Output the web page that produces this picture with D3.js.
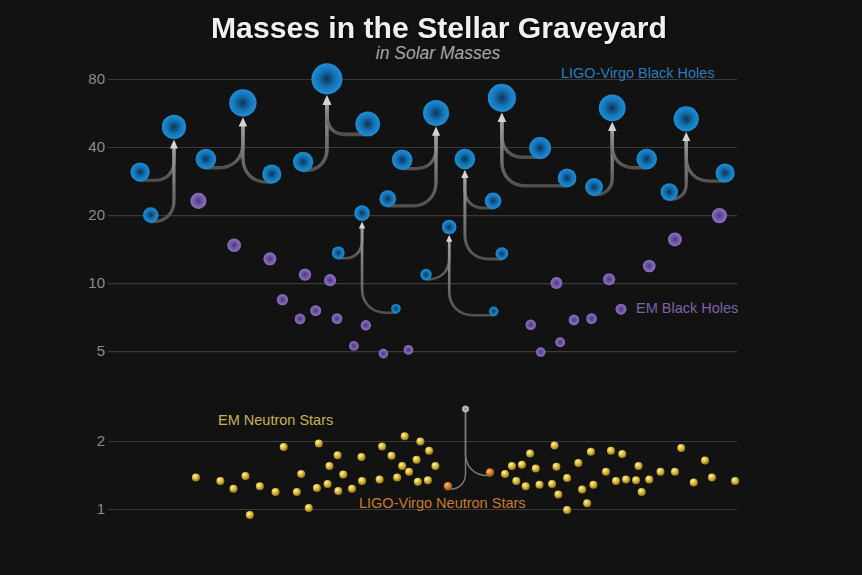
<!DOCTYPE html>
<html>
<head>
<meta charset="utf-8">
<script src="https://cdnjs.cloudflare.com/ajax/libs/d3/7.8.5/d3.min.js"></script>
<style>
  body { margin: 0; background: #121212; }
  svg { display: block; font-family: "Liberation Sans", Arial, sans-serif; }
</style>
</head>
<body>
<div id="chart"></div>
<script>
// tick values on the log axis (solar masses)
const yTicks = [1, 2, 5, 10, 20, 40, 80];

// LIGO-Virgo black hole mergers: horizontal slot (0-100) and mass of the two
// progenitors and of the final black hole
const bhFinalSlot = [10.2, 21.2, 34.6, 40.2, 52.0, 54.1, 56.6, 62.5, 80.1, 91.9];
const bhFinalMass = [49.1, 62.7, 80.1, 20.4, 56.6, 17.7, 35.4, 66.0, 59.6, 53.3];
const bhP1Slot = [4.8, 15.3, 30.8, 36.4, 46.6, 50.4, 61.1, 68.6, 77.2, 89.2];
const bhP1Mass = [31.0, 35.4, 34.4, 13.6, 35.1, 10.9, 23.1, 39.6, 26.6, 25.3];
const bhP2Slot = [6.5, 25.8, 41.1, 45.6, 44.3, 61.2, 62.5, 72.9, 85.6, 98.1];
const bhP2Mass = [20.0, 30.4, 50.6, 7.7, 23.6, 7.5, 13.5, 29.2, 35.4, 30.7];

// EM black holes
const emBhSlot = [14.1, 19.8, 25.5, 31.1, 35.1, 27.5, 32.8, 30.3, 36.2, 40.8, 38.9, 43.6, 47.6,
                  97.2, 90.1, 86.0, 79.6, 71.2, 81.5, 76.8, 74.0, 67.1, 71.8, 68.7];
const emBhMass = [23.1, 14.7, 12.8, 10.9, 10.3, 8.44, 7.55, 6.94, 6.96, 6.50, 5.27, 4.87, 5.06,
                  19.9, 15.6, 11.9, 10.4, 10.0, 7.66, 6.96, 6.87, 6.54, 5.47, 4.95];

// EM neutron stars
const nsSlot = [13.7, 17.6, 19.7, 21.6, 22.3, 23.9, 26.4, 27.7, 29.8, 30.5, 31.7, 33.0, 33.3, 34.7,
                35.0, 36.3, 36.4, 37.2, 38.6, 40.1, 40.2, 43.0, 43.4, 44.9, 45.8, 46.6, 47.0, 47.7,
                48.9, 49.1, 49.5, 50.7, 50.9, 51.9,
                63.0, 64.1, 64.8, 65.7, 66.3, 67.0, 67.9, 68.5, 70.5, 70.9, 71.2, 71.5, 72.9, 72.9,
                74.7, 75.3, 76.1, 76.7, 77.1, 79.1, 79.9, 80.7, 81.7, 82.3, 83.9, 84.3, 84.8, 86.0,
                87.8, 90.1, 91.1, 93.1, 94.9, 96.0, 99.7];
const nsMass = [1.38, 1.33, 1.23, 1.40, 0.94, 1.26, 1.19, 1.88, 1.19, 1.43, 1.01, 1.24, 1.95, 1.29,
                1.55, 1.73, 1.20, 1.42, 1.23, 1.70, 1.33, 1.35, 1.89, 1.72, 1.38, 1.55, 2.10, 1.46,
                1.65, 1.32, 1.99, 1.34, 1.81, 1.55,
                1.43, 1.55, 1.33, 1.57, 1.26, 1.76, 1.51, 1.28, 1.29, 1.91, 1.54, 1.16, 1.37, 0.99,
                1.60, 1.22, 1.06, 1.79, 1.28, 1.46, 1.81, 1.33, 1.75, 1.35, 1.34, 1.55, 1.19, 1.35,
                1.46, 1.46, 1.86, 1.31, 1.64, 1.38, 1.33];

// LIGO-Virgo neutron star merger
const lvNsSlot = [53.9, 60.6];
const lvNsMass = [1.26, 1.45];
const lvNsFinalSlot = 56.7;
const lvNsFinalMass = 2.77;

const width = 862, height = 575;

const x = d3.scaleLinear().domain([0, 100]).range([110, 737]);
const y = d3.scaleLog().domain([1, 80]).range([509, 79]);
const rBlue = d3.scaleSqrt().domain([0, 80]).range([0, 15.5]);
const rPurple = d3.scaleSqrt().domain([0, 25]).range([2, 8.3]);

const svg = d3.select('#chart').append('svg')
    .attr('width', width)
    .attr('height', height);

svg.append('rect').attr('width', width).attr('height', height).attr('fill', '#121212');

/* gradients */
const defs = svg.append('defs');
const radial = (id, stops, opts = {}) => {
    const g = defs.append('radialGradient').attr('id', id);
    Object.entries(opts).forEach(([k, v]) => g.attr(k, v));
    stops.forEach(([o, c]) => g.append('stop').attr('offset', o).attr('stop-color', c));
};
radial('gBlue', [[0, '#0b3558'], [0.55, '#1572b2'], [1, '#1d8fd8']]);
radial('gPurple', [[0, '#4a3672'], [0.55, '#7459a8'], [1, '#8c71c3']]);
radial('gYellow', [[0, '#fff5b0'], [0.45, '#e2c443'], [1, '#8f721a']], {cx: 0.42, cy: 0.38, fx: 0.35, fy: 0.3, r: 0.65});
radial('gOrange', [[0, '#ffc27e'], [0.45, '#dd8530'], [1, '#8e4b10']], {cx: 0.42, cy: 0.38, fx: 0.35, fy: 0.3, r: 0.65});
radial('gGrey', [[0, '#777'], [0.6, '#bbb'], [1, '#ddd']]);

const lg = defs.append('linearGradient').attr('id', 'gLine')
    .attr('x1', 0).attr('y1', 1).attr('x2', 0).attr('y2', 0);
lg.append('stop').attr('offset', 0).attr('stop-color', '#505050');
lg.append('stop').attr('offset', 1).attr('stop-color', '#a0a0a0');

/* axis */
const axis = d3.axisLeft(y)
    .tickValues(yTicks)
    .tickFormat(d3.format('d'))
    .tickSize(-(737 - 108))
    .tickPadding(3);

const gAxis = svg.append('g')
    .attr('transform', 'translate(108,0)')
    .call(axis);
gAxis.select('.domain').remove();
gAxis.selectAll('line').attr('stroke', '#3a3a3a').attr('stroke-width', 1.2);
gAxis.selectAll('text')
    .attr('fill', '#8c8c8c')
    .style('font-size', '15px')
    .style('font-family', '"Liberation Sans", Arial, sans-serif');

/* titles */
svg.append('text')
    .attr('x', 439).attr('y', 38)
    .attr('text-anchor', 'middle')
    .attr('fill', '#f0f0f0')
    .attr('font-family', '"Liberation Sans", Arial, sans-serif')
    .attr('font-weight', 700)
    .attr('font-size', 29)
    .attr('textLength', 456).attr('lengthAdjust', 'spacingAndGlyphs')
    .style('filter', 'drop-shadow(1px 1px 1px #000)')
    .text('Masses in the Stellar Graveyard');

svg.append('text')
    .attr('x', 438).attr('y', 59)
    .attr('text-anchor', 'middle')
    .attr('fill', '#a8a8a8')
    .style('font-size', '17.5px').style('font-style', 'italic')
    .text('in Solar Masses');

/* merger paths: horizontal run out of the progenitor, rounded bend, vertical rise */
const mergePath = (px, py, rp, fx, tipY) => {
    const p = d3.path();
    const y0 = py + rp * 0.85;
    const dir = fx > px ? 1 : -1;
    const dx = Math.abs(fx - px);
    const R = Math.min(dx * 0.9, (y0 - tipY) * 0.55, 24);
    p.moveTo(px, y0);
    p.lineTo(fx - dir * R, y0);
    p.bezierCurveTo(fx - dir * R * 0.4, y0, fx, y0 - R * 0.4, fx, y0 - R);
    p.lineTo(fx, tipY);
    return p.toString();
};

const mergers = bhFinalSlot.map((s, i) => ({
    fx: x(s), fy: y(bhFinalMass[i]), fr: rBlue(bhFinalMass[i]),
    prog: [
        {x: x(bhP1Slot[i]), y: y(bhP1Mass[i]), r: rBlue(bhP1Mass[i])},
        {x: x(bhP2Slot[i]), y: y(bhP2Mass[i]), r: rBlue(bhP2Mass[i])}
    ]
}));

const gLines = svg.append('g');
mergers.forEach(m => {
    const L = 4 + m.fr * 0.4;
    const tip = m.fy + m.fr + 0.5;
    m.prog.forEach(p => {
        gLines.append('path')
            .attr('d', mergePath(p.x, p.y, p.r, m.fx, tip + L * 0.7))
            .attr('fill', 'none')
            .attr('stroke', 'url(#gLine)')
            .attr('stroke-width', 1.6 + m.fr * 0.13)
            .attr('stroke-linecap', 'round');
    });
    gLines.append('path')
        .attr('d', `M${m.fx},${tip} L${m.fx - L * 0.45},${tip + L} L${m.fx + L * 0.45},${tip + L} Z`)
        .attr('fill', '#d4d4d4');
});

// neutron star merger lines
const nsFx = x(lvNsFinalSlot), nsFy = y(lvNsFinalMass);
lvNsSlot.forEach((s, i) => {
    gLines.append('path')
        .attr('d', mergePath(x(s), y(lvNsMass[i]), 3.5, nsFx, nsFy + 3))
        .attr('fill', 'none')
        .attr('stroke', '#7a7a7a')
        .attr('stroke-width', 1.5);
});

/* EM black holes */
svg.append('g').selectAll('circle')
    .data(emBhSlot.map((s, i) => ({s, m: emBhMass[i]})))
    .enter().append('circle')
    .attr('cx', d => x(d.s))
    .attr('cy', d => y(d.m))
    .attr('r', d => rPurple(d.m))
    .attr('fill', 'url(#gPurple)');

/* LIGO-Virgo black holes */
const bhPoints = [];
mergers.forEach(m => {
    bhPoints.push({x: m.fx, y: m.fy, r: m.fr});
    m.prog.forEach(p => bhPoints.push(p));
});
svg.append('g').selectAll('circle')
    .data(bhPoints)
    .enter().append('circle')
    .attr('cx', d => d.x)
    .attr('cy', d => d.y)
    .attr('r', d => d.r)
    .attr('fill', 'url(#gBlue)');

/* EM neutron stars */
svg.append('g').selectAll('circle')
    .data(nsSlot.map((s, i) => ({s, m: nsMass[i]})))
    .enter().append('circle')
    .attr('cx', d => x(d.s))
    .attr('cy', d => y(d.m))
    .attr('r', 4)
    .attr('fill', 'url(#gYellow)');

/* LIGO-Virgo neutron stars */
svg.append('g').selectAll('circle')
    .data(lvNsSlot.map((s, i) => ({s, m: lvNsMass[i]})))
    .enter().append('circle')
    .attr('cx', d => x(d.s))
    .attr('cy', d => y(d.m))
    .attr('r', 4.2)
    .attr('fill', 'url(#gOrange)');

svg.append('circle')
    .attr('cx', nsFx).attr('cy', nsFy).attr('r', 3.3)
    .attr('fill', 'url(#gGrey)')
    .attr('stroke', '#8a8a8a').attr('stroke-width', 0.8);

/* labels */
const labels = [
    {t: 'LIGO-Virgo Black Holes', x: 561, y: 78, c: '#2c7cbd'},
    {t: 'EM Black Holes', x: 636, y: 313, c: '#7b63ab'},
    {t: 'EM Neutron Stars', x: 218, y: 425, c: '#c8b05a'},
    {t: 'LIGO-Virgo Neutron Stars', x: 359, y: 508, c: '#c97a30'}
];
svg.append('g').selectAll('text')
    .data(labels)
    .enter().append('text')
    .attr('x', d => d.x)
    .attr('y', d => d.y)
    .attr('fill', d => d.c)
    .style('font-size', '14.5px')
    .text(d => d.t);
</script>
</body>
</html>
